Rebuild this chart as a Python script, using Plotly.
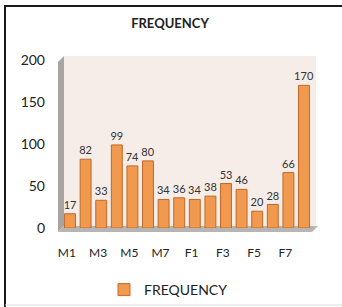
import plotly.graph_objects as go

categories = ["M1", "M2", "M3", "M4", "M5", "M6", "M7", "M8",
              "F1", "F2", "F3", "F4", "F5", "F6", "F7", "F8"]
frequency = [17, 82, 33, 99, 74, 80, 34, 36, 34, 38, 53, 46, 20, 28, 66, 170]
tick_labels = ["M1", "M3", "M5", "M7", "F1", "F3", "F5", "F7"]
y_ticks = [0, 50, 100, 150, 200]

W, H = 342, 307
L, R, T, B = 58, 26, 56, 79
PW, PH = W - L - R, H - T - B


def px(x):
    return (x - L) / PW


def py(y):
    return (H - B - y) / PH


fig = go.Figure()
fig.add_trace(go.Bar(
    x=list(range(len(categories))), y=frequency, name="FREQUENCY",
    text=[str(v) for v in frequency], textposition="outside",
    textfont=dict(size=11, color="#333333", family="Lato"),
    cliponaxis=False, constraintext="none",
    marker=dict(color="#F0994F", line=dict(color="#C06A28", width=1)),
))

shapes = [
    # back wall
    dict(type="rect", xref="paper", yref="paper", x0=px(64), x1=px(316), y0=py(226), y1=py(56),
         fillcolor="#F6ECE8", line=dict(width=0), layer="below"),
    # left wall
    dict(type="path", xref="paper", yref="paper",
         path=f"M {px(58)} {py(62)} L {px(64)} {py(56)} L {px(64)} {py(226)} L {px(58)} {py(232)} Z",
         fillcolor="#A8A4A2", line=dict(width=0), layer="below"),
    # floor
    dict(type="path", xref="paper", yref="paper",
         path=f"M {px(58)} {py(232)} L {px(64)} {py(226)} L {px(318)} {py(226)} L {px(312)} {py(232)} Z",
         fillcolor="#B8B4B2", line=dict(width=0), layer="below"),
    # frame
    dict(type="line", xref="paper", yref="paper", x0=px(4), x1=px(342), y0=py(6), y1=py(6),
         line=dict(color="#1a1a1a", width=2)),
    dict(type="line", xref="paper", yref="paper", x0=px(5), x1=px(5), y0=py(5), y1=py(307),
         line=dict(color="#1a1a1a", width=2)),
    dict(type="line", xref="paper", yref="paper", x0=px(5), x1=px(342), y0=py(305), y1=py(305),
         line=dict(color="#DDDDDD", width=1)),
]

fig.update_layout(
    width=W, height=H,
    margin=dict(l=L, r=R, t=T, b=B, autoexpand=False),
    paper_bgcolor="white", plot_bgcolor="rgba(0,0,0,0)",
    font=dict(family="Lato", color="#222222"),
    title=dict(text="<b>FREQUENCY</b>", x=170 / W, y=1 - 23 / H, xanchor="center", yanchor="middle",
               font=dict(size=13, color="#222222", family="Lato")),
    bargap=0.3,
    showlegend=True,
    legend=dict(orientation="h", x=px(104), y=py(290), xanchor="left", yanchor="middle",
                itemwidth=30,
                font=dict(size=14, color="#222222", family="Lato"), bgcolor="rgba(0,0,0,0)"),
    shapes=shapes,
    xaxis=dict(range=[-0.77, 15.77], tickmode="array",
               tickvals=[categories.index(t) - 0.2 for t in tick_labels], ticktext=tick_labels,
               showgrid=False, zeroline=False, showline=False, ticks="",
               ticklabelstandoff=16, tickfont=dict(size=12, color="#222222")),
    yaxis=dict(range=[0, 205], tickmode="array", tickvals=y_ticks,
               showgrid=False, zeroline=False, showline=False, ticks="",
               ticklabelstandoff=12, tickfont=dict(size=14, color="#222222")),
)

fig.write_html("out.html", config={"displayModeBar": False},
               post_script="document.body.style.margin='0';document.body.style.overflow='hidden';")
